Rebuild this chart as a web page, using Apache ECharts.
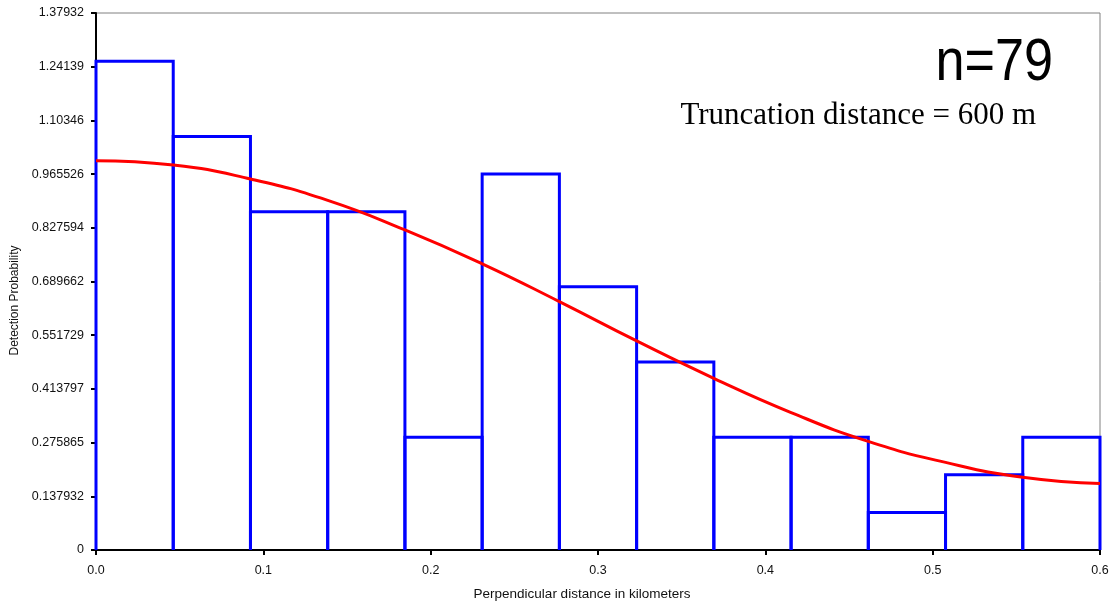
<!DOCTYPE html>
<html>
<head>
<meta charset="utf-8">
<title>Detection Probability</title>
<script src="https://cdn.jsdelivr.net/npm/echarts@6/dist/echarts.min.js"></script>
<style>
  html, body { margin: 0; padding: 0; background: #fff; }
  #chart { width: 1114px; height: 606px; }
</style>
</head>
<body>
<div id="chart"></div>
<script>
// histogram bins (km) and their heights
const binEdges = [0, 0.046154, 0.092308, 0.138462, 0.184615, 0.230769, 0.276923,
  0.323077, 0.369231, 0.415385, 0.461538, 0.507692, 0.553846, 0.6]
const binHeights = [1.25518, 1.06208, 0.86897, 0.86897, 0.28966, 0.96553, 0.67587,
  0.48276, 0.28966, 0.28966, 0.09655, 0.19311, 0.28966]

// fitted detection function
const curveX = [0, 0.0462, 0.0923, 0.1385, 0.1846, 0.2308, 0.2769, 0.3231,
  0.3692, 0.4154, 0.4615, 0.5077, 0.5538, 0.6]
const curveY = [1.000, 0.989, 0.953, 0.898, 0.822, 0.735, 0.638, 0.537,
  0.441, 0.353, 0.279, 0.225, 0.187, 0.171]

const yTickLabels = ["0", "0.137932", "0.275865", "0.413797", "0.551729", "0.689662",
  "0.827594", "0.965526", "1.10346", "1.24139", "1.37932"]
const yStep = 0.137932

const chart = echarts.init(document.getElementById("chart"))

const bars = binHeights.map((h, i) => [binEdges[i], binEdges[i + 1], h])

const option = {
  backgroundColor: "#fff",
  animation: false,
  grid: {
    left: 96,
    right: 14,
    top: 13,
    bottom: 56,
    outerBoundsMode: "none",
    show: true,
    borderColor: "#808080",
    borderWidth: 1,
  },
  xAxis: {
    type: "value",
    min: 0,
    max: 0.6,
    interval: 0.1,
    name: "Perpendicular distance in kilometers",
    nameLocation: "middle",
    nameGap: 37,
    nameTextStyle: {
      color: "#111",
      fontFamily: "Liberation Sans, Arial",
      fontSize: 13.5,
      padding: [0, 32, 0, 0],
    },
    axisLine: { lineStyle: { color: "#000", width: 2 } },
    axisTick: { length: 5, lineStyle: { color: "#000", width: 2 } },
    axisLabel: {
      margin: 14,
      color: "#111",
      fontFamily: "Liberation Sans, Arial",
      fontSize: 12.5,
      formatter: (v) => v.toFixed(1),
    },
    splitLine: { show: false },
  },
  yAxis: {
    type: "value",
    min: 0,
    max: yStep * 10,
    interval: yStep,
    name: "Detection Probability",
    nameLocation: "middle",
    nameGap: 73,
    nameTextStyle: {
      color: "#111",
      fontFamily: "Liberation Sans, Arial",
      fontSize: 12,
      padding: [0, 38, 0, 0],
    },
    axisLine: { show: true, lineStyle: { color: "#000", width: 2 } },
    axisTick: { show: true, length: 5, lineStyle: { color: "#000", width: 2 } },
    axisLabel: {
      margin: 12,
      color: "#111",
      fontFamily: "Liberation Sans, Arial",
      fontSize: 12.5,
      formatter: (v) => yTickLabels[Math.round(v / yStep)],
    },
    splitLine: { show: false },
  },
  graphic: [
    {
      type: "text",
      right: 61,
      top: 33,
      scaleX: 0.87,
      style: {
        text: "n=79",
        fill: "#000",
        fontFamily: "Liberation Sans, Arial",
        fontSize: 60,
      },
    },
    {
      type: "text",
      right: 78,
      top: 100,
      style: {
        text: "Truncation distance = 600 m",
        fill: "#000",
        fontFamily: "Liberation Serif, Times New Roman",
        fontSize: 31,
      },
    },
  ],
  series: [
    {
      type: "custom",
      data: bars,
      z: 3,
      renderItem: (params, api) => {
        const x0 = api.value(0)
        const x1 = api.value(1)
        const h = api.value(2)
        const p0 = api.coord([x0, 0])
        const p1 = api.coord([x0, h])
        const p2 = api.coord([x1, h])
        const p3 = api.coord([x1, 0])
        return {
          type: "polyline",
          shape: { points: [p0, p1, p2, p3] },
          style: { stroke: "#0000ff", lineWidth: 3, fill: null },
        }
      },
    },
    {
      type: "line",
      data: curveX.map((x, i) => [x, curveY[i]]),
      smooth: 0.5,
      symbol: "none",
      z: 4,
      lineStyle: { color: "#ff0000", width: 3 },
    },
  ],
}

chart.setOption(option)
</script>
</body>
</html>
